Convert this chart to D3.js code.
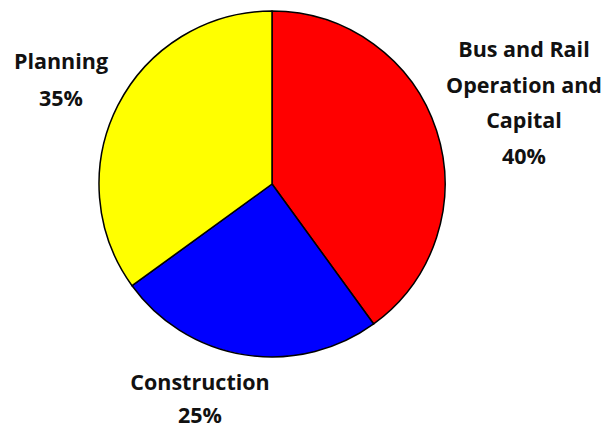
<!DOCTYPE html>
<html>
<head>
<meta charset="utf-8">
<script src="https://cdn.jsdelivr.net/npm/d3@7"></script>
<style>
  body { margin: 0; background: #fff; }
  svg text { font-family: "Open Sans", "DejaVu Sans", sans-serif; font-weight: bold; fill: #111; }
</style>
</head>
<body>
<svg width="605" height="429"></svg>
<script>
// slices, clockwise from 12 o'clock
var categories = ["Bus and Rail Operation and Capital", "Construction", "Planning"];
var values = [40, 25, 35];
var colors = ["#ff0000", "#0000ff", "#ffff00"];
// label lines for each slice
var labelLines = [
    ["Bus and Rail", "Operation and", "Capital", "40%"],
    ["Construction", "25%"],
    ["Planning", "35%"]
];

var svg = d3.select("svg"),
    cx = 272, cy = 184, r = 173;

var pie = d3.pie().sort(null).value(function(d) { return d; });
var arc = d3.arc().innerRadius(0).outerRadius(r);

var g = svg.append("g")
    .attr("transform", "translate(" + cx + "," + cy + ")");

g.selectAll("path")
    .data(pie(values))
    .enter().append("path")
    .attr("d", arc)
    .attr("fill", function(d, i) { return colors[i]; })
    .attr("stroke", "#000")
    .attr("stroke-width", 1.5)
    .attr("stroke-linejoin", "round");

// label anchors (center x, first baseline), line height
var labelPos = [[524, 57], [200, 390], [61, 69]];
var lineH = [35.5, 33, 37];

var labels = svg.selectAll("text.lbl")
    .data(labelLines)
    .enter().append("text")
    .attr("class", "lbl")
    .attr("text-anchor", "middle")
    .attr("font-size", 21.5);

labels.each(function(lines, i) {
    d3.select(this).selectAll("tspan")
        .data(lines)
        .enter().append("tspan")
        .attr("x", labelPos[i][0])
        .attr("y", function(d, j) { return labelPos[i][1] + j * lineH[i]; })
        .text(function(d) { return d; });
});
</script>
</body>
</html>
